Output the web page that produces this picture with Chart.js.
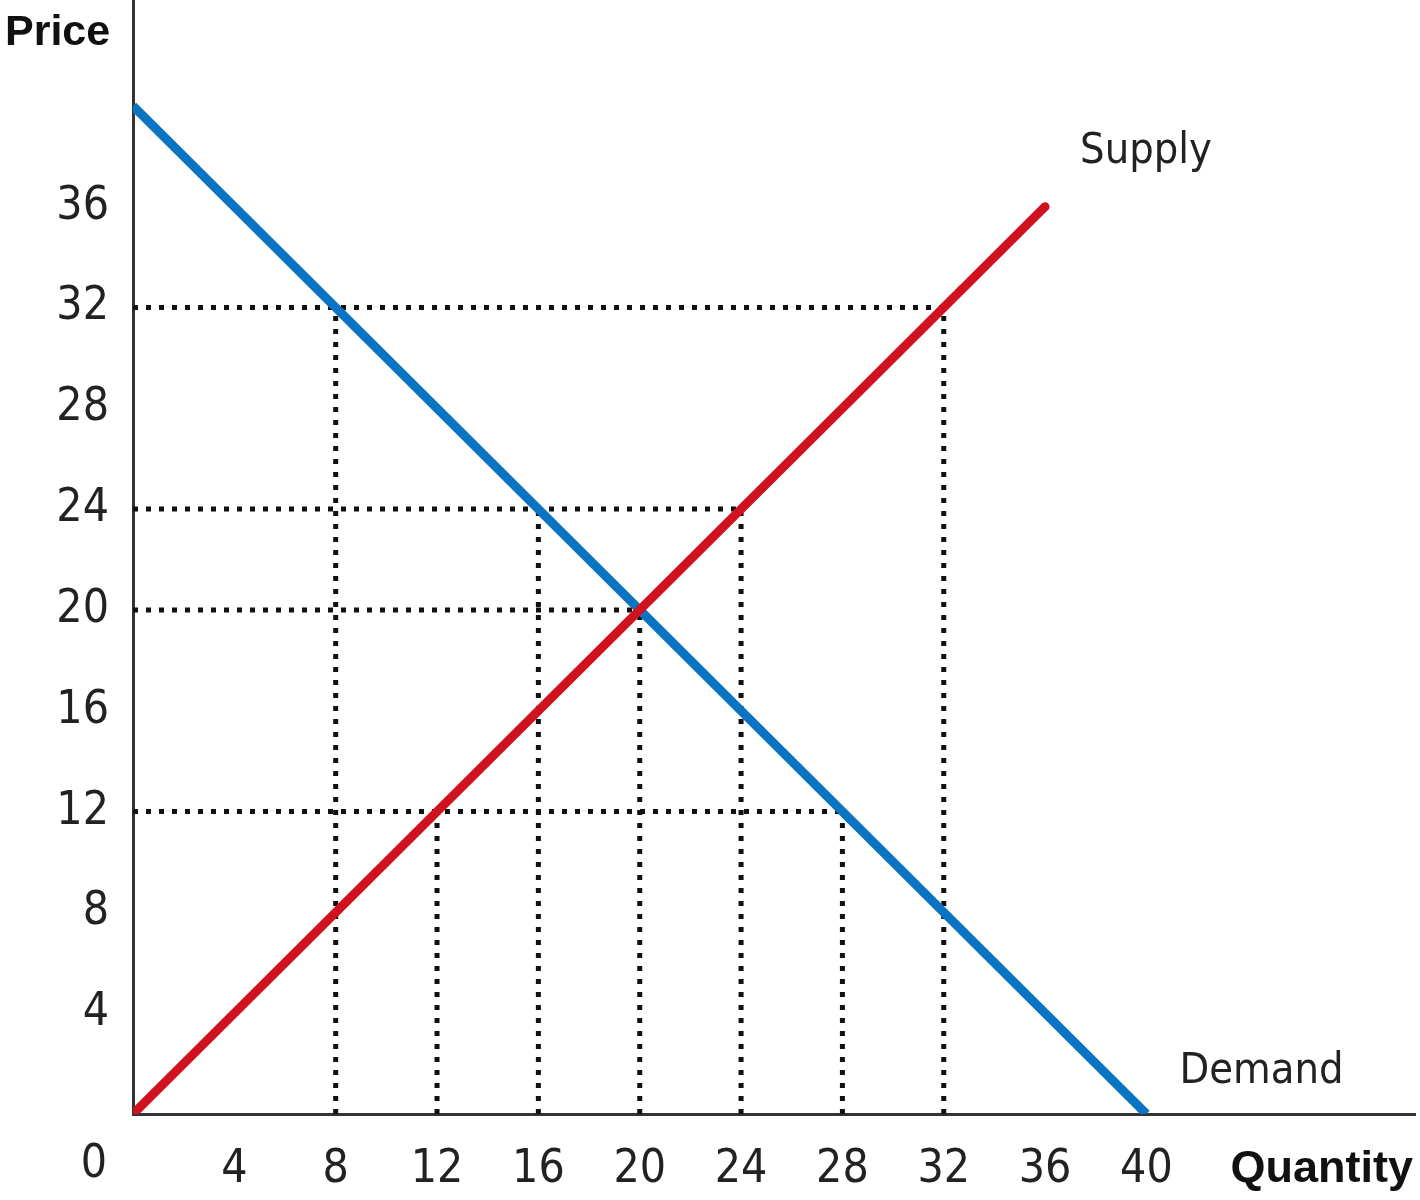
<!DOCTYPE html>
<html>
<head>
<meta charset="utf-8">
<script src="https://cdn.jsdelivr.net/npm/chart.js@4"></script>
<style>
  body { margin: 0; background: #fff; }
  #wrap { width: 1420px; height: 1200px; position: relative; }
</style>
</head>
<body>
<div id="wrap"><canvas id="chart"></canvas></div>
<script>
// tick labels
var quantityTicks = [4, 8, 12, 16, 20, 24, 28, 32, 36, 40];
var priceTicks = [4, 8, 12, 16, 20, 24, 28, 32, 36];

// supply and demand curves
var supplyQuantity = [0, 36];
var supplyPrice = [0, 36];
var demandQuantity = [0, 40];
var demandPrice = [40, 0];

// dotted guides: horizontal ones (price level, how far right they go)
var guidePrice = [32, 24, 20, 12];
var guidePriceReach = [32, 24, 20, 28];
// vertical ones (quantity, how high they go)
var guideQuantity = [8, 12, 16, 20, 24, 28, 32];
var guideQuantityReach = [32, 12, 24, 20, 24, 12, 32];

var tickFont = { family: '"DejaVu Sans Condensed", "DejaVu Sans", sans-serif', size: 46 };
var textColor = '#222';
var xTickPad = 28;

function toPoints(xs, ys) {
  var pts = [];
  for (var i = 0; i < xs.length; i++) pts.push({ x: xs[i], y: ys[i] });
  return pts;
}

var datasets = [];
datasets.push({
  label: 'Supply',
  data: toPoints(supplyQuantity, supplyPrice),
  borderColor: '#d0121f',
  borderWidth: 9,
  borderCapStyle: 'round',
  order: 0
});
datasets.push({
  label: 'Demand',
  data: toPoints(demandQuantity, demandPrice),
  borderColor: '#0a74c2',
  borderWidth: 9,
  borderCapStyle: 'butt',
  order: 0
});
for (var i = 0; i < guidePrice.length; i++) {
  datasets.push({
    data: toPoints([0, guidePriceReach[i]], [guidePrice[i], guidePrice[i]]),
    borderColor: '#111',
    borderWidth: 5,
    borderDash: [5, 8],
    order: 1
  });
}
for (var j = 0; j < guideQuantity.length; j++) {
  datasets.push({
    data: toPoints([guideQuantity[j], guideQuantity[j]], [0, guideQuantityReach[j]]),
    borderColor: '#111',
    borderWidth: 5,
    borderDash: [5, 8],
    order: 1
  });
}
datasets.forEach(function (d) {
  d.showLine = true;
  d.pointRadius = 0;
  d.pointHoverRadius = 0;
  d.fill = false;
});

// extra texts: curve names, axis names and the lone 0
var textPlugin = {
  id: 'texts',
  afterDraw: function (chart) {
    var ctx = chart.ctx;
    var xs = chart.scales.x, ys = chart.scales.y;
    ctx.save();
    ctx.fillStyle = textColor;
    ctx.textBaseline = 'alphabetic';

    ctx.font = '43px ' + tickFont.family;
    ctx.textAlign = 'left';
    var sx = xs.getPixelForValue(supplyQuantity[supplyQuantity.length - 1]);
    var sy = ys.getPixelForValue(supplyPrice[supplyPrice.length - 1]);
    ctx.fillText('Supply', sx + 35, sy - 44);

    var dx = xs.getPixelForValue(demandQuantity[demandQuantity.length - 1]);
    var dy = ys.getPixelForValue(demandPrice[demandPrice.length - 1]);
    ctx.fillText('Demand', dx + 33, dy - 31);

    ctx.font = tickFont.size + 'px ' + tickFont.family;
    ctx.textAlign = 'center';
    ctx.textBaseline = 'top';
    ctx.fillText('0', xs.getPixelForValue(0) - 39, chart.chartArea.bottom + xTickPad);

    ctx.fillStyle = '#111';
    ctx.textBaseline = 'alphabetic';
    ctx.font = 'bold 43px "Liberation Sans", Arial, sans-serif';
    ctx.textAlign = 'left';
    ctx.fillText('Price', 5, 45);
    ctx.font = 'bold 45px "Liberation Sans", Arial, sans-serif';
    ctx.textAlign = 'right';
    ctx.fillText('Quantity', 1413, 1182);
    ctx.restore();
  }
};

new Chart(document.getElementById('chart'), {
  type: 'scatter',
  data: { datasets: datasets },
  options: {
    responsive: true,
    maintainAspectRatio: false,
    animation: false,
    devicePixelRatio: 1,
    layout: { padding: { top: 0, right: 5, left: 0, bottom: 0 } },
    plugins: { legend: { display: false }, tooltip: { enabled: false } },
    scales: {
      x: {
        type: 'linear',
        min: 0,
        max: 50.6,
        grid: { display: false, drawTicks: false },
        border: { display: true, color: '#333', width: 3 },
        afterBuildTicks: function (scale) {
          scale.ticks = quantityTicks.map(function (v) { return { value: v }; });
        },
        afterFit: function (scale) {
          scale.height = 86;
          scale.paddingLeft = 0;
          scale.paddingRight = 0;
        },
        ticks: { font: tickFont, color: textColor, padding: xTickPad, autoSkip: false, maxRotation: 0 }
      },
      y: {
        type: 'linear',
        min: 0,
        max: 44.2,
        grid: { display: false, drawTicks: false },
        border: { display: true, color: '#333', width: 3 },
        afterBuildTicks: function (scale) {
          scale.ticks = priceTicks.map(function (v) { return { value: v }; });
        },
        afterFit: function (scale) {
          scale.width = 133;
          scale.paddingTop = 0;
          scale.paddingBottom = 0;
        },
        ticks: { font: tickFont, color: textColor, padding: 24, autoSkip: false }
      }
    }
  },
  plugins: [textPlugin]
});
</script>
</body>
</html>
